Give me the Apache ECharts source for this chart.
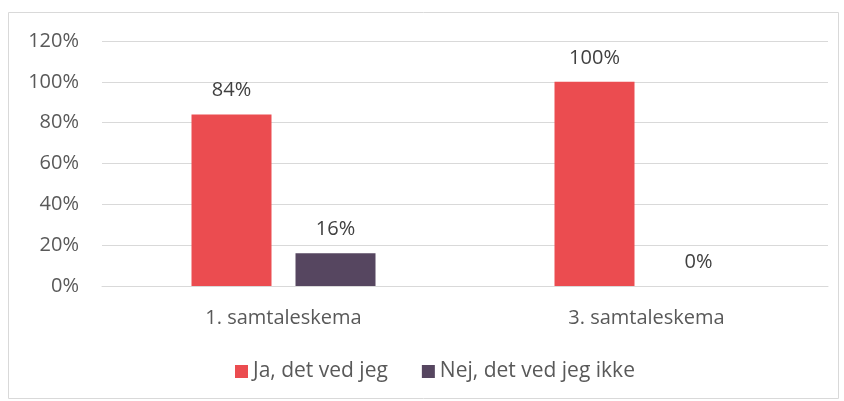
<!DOCTYPE html>
<html><head><meta charset="utf-8">
<script src="https://cdn.jsdelivr.net/npm/echarts@6/dist/echarts.min.js"></script>
<style>html,body{margin:0;padding:0;background:#fff}#c{width:844px;height:401px}</style>
</head><body><div id="c"></div>
<script>
const categories = ['1. samtaleskema', '3. samtaleskema'];
const seriesNames = ['Ja, det ved jeg', 'Nej, det ved jeg ikke'];
const jaValues = [84, 100];
const nejValues = [16, 0];
const colors = ['#EB4C50', '#564660'];
const font = 'Open Sans';
const chart = echarts.init(document.getElementById('c'), null, {renderer: 'canvas'});
const labelStyle = {show: true, position: 'top', distance: 14, formatter: '{c}%', color: '#404040', fontSize: 20, fontFamily: font};
chart.setOption({
  animation: false,
  graphic: [{type: 'rect', shape: {x: 8.5, y: 12.5, width: 830, height: 386}, style: {fill: 'none', stroke: '#D9D9D9', lineWidth: 1}, silent: true}],
  grid: {left: 102, right: 16, top: 41, bottom: 115, containLabel: false},
  legend: {
    bottom: 19, left: 235, itemWidth: 13, itemHeight: 13, itemGap: 34, padding: 0,
    icon: 'rect',
    textStyle: {color: '#595959', fontSize: 21, fontFamily: font},
    data: seriesNames
  },
  xAxis: {
    type: 'category', data: categories,
    axisLine: {lineStyle: {color: '#D9D9D9', width: 1}},
    axisTick: {show: false},
    axisLabel: {color: '#595959', fontSize: 20, fontFamily: font, margin: 22}
  },
  yAxis: {
    type: 'value', min: 0, max: 120, interval: 20,
    axisLine: {show: false}, axisTick: {show: false},
    splitLine: {lineStyle: {color: '#D9D9D9', width: 1}},
    axisLabel: {formatter: '{value}%', color: '#595959', fontSize: 20, fontFamily: font, margin: 23}
  },
  series: [
    {name: seriesNames[0], type: 'bar', data: jaValues, barWidth: 80, barGap: '30%', itemStyle: {color: colors[0]}, label: labelStyle},
    {name: seriesNames[1], type: 'bar', data: nejValues, barWidth: 80, itemStyle: {color: colors[1]}, label: labelStyle}
  ]
});
</script></body></html>
